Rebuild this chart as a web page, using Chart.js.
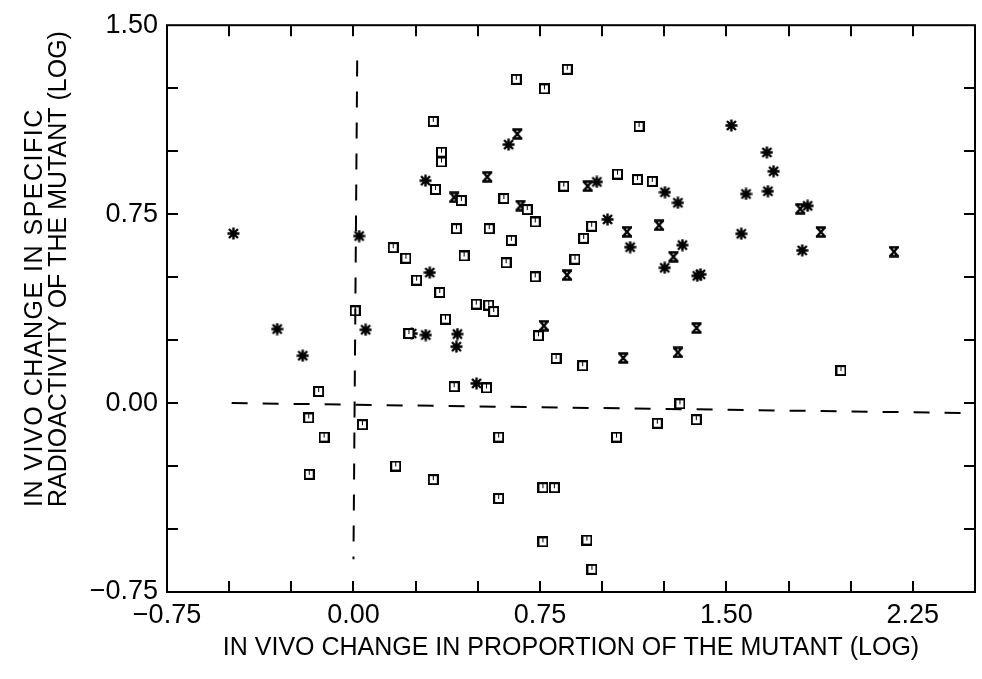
<!DOCTYPE html>
<html>
<head>
<meta charset="utf-8">
<script src="https://cdn.jsdelivr.net/npm/chart.js@4.4.1/dist/chart.umd.min.js"></script>
<style>
  html, body { margin: 0; padding: 0; background: #fff; }
  #wrap { width: 982px; height: 679px; }
</style>
</head>
<body>
<div id="wrap"><canvas id="c" width="982" height="679"></canvas></div>
<script>
// ---- Data ----
const squarePoints = [
  [0.321, 1.118], [0.655, 1.285], [0.768, 1.247], [0.860, 1.325], [0.354, 0.996],
  [0.354, 0.957], [0.330, 0.848], [0.434, 0.804], [0.605, 0.812], [0.699, 0.768],
  [0.731, 0.719], [0.846, 0.861], [0.414, 0.692], [0.546, 0.692], [0.635, 0.646],
  [1.149, 1.098], [1.062, 0.909], [1.142, 0.887], [1.202, 0.880], [0.958, 0.702],
  [0.926, 0.654], [0.891, 0.571], [0.815, 0.177], [0.922, 0.148], [1.961, 0.129],
  [1.313, -0.003], [1.222, -0.080], [1.379, -0.066], [1.058, -0.135], [0.160, 0.617],
  [0.211, 0.575], [0.445, 0.584], [0.614, 0.557], [0.254, 0.488], [0.731, 0.501],
  [0.347, 0.439], [0.494, 0.393], [0.544, 0.389], [0.564, 0.363], [0.007, 0.366],
  [0.370, 0.333], [0.223, 0.276], [0.744, 0.267], [-0.140, 0.046], [0.405, 0.065],
  [0.535, 0.060], [-0.180, -0.059], [0.036, -0.086], [-0.118, -0.135], [0.584, -0.135],
  [0.170, -0.250], [-0.178, -0.283], [0.321, -0.304], [0.762, -0.336], [0.808, -0.336],
  [0.584, -0.379], [0.762, -0.551], [0.939, -0.544], [0.959, -0.660]
];
const asteriskPoints = [
  [-0.483, 0.673], [0.023, 0.663], [0.624, 1.026], [0.290, 0.883], [1.520, 1.102],
  [1.663, 0.995], [1.690, 0.920], [1.579, 0.830], [1.667, 0.841], [1.827, 0.783],
  [1.560, 0.672], [0.979, 0.878], [1.253, 0.837], [1.305, 0.795], [1.022, 0.729],
  [1.113, 0.619], [1.323, 0.627], [1.252, 0.537], [1.383, 0.505], [1.396, 0.511],
  [1.805, 0.606], [0.307, 0.518], [-0.307, 0.294], [0.049, 0.291], [0.234, 0.276],
  [0.291, 0.270], [0.418, 0.274], [0.414, 0.224], [-0.204, 0.188], [0.495, 0.078]
];
const hourglassPoints = [
  [0.659, 1.068], [0.538, 0.898], [0.405, 0.817], [0.672, 0.784], [1.797, 0.771],
  [1.880, 0.679], [0.942, 0.861], [1.100, 0.680], [1.229, 0.706], [1.287, 0.581],
  [2.174, 0.601], [0.859, 0.508], [1.380, 0.298], [1.305, 0.201], [1.085, 0.179],
  [0.766, 0.307]
];
// dashed reference lines (as they appear in the picture)
const zeroLineH = [[-0.49, 0.00], [2.50, -0.04]];
const zeroLineV = [[0.015, 1.36], [0.00, -0.62]];

// axis ranges and labelled tick values
const xRange = [-0.75, 2.50];
const yRange = [-0.75, 1.50];
const tickStep = 0.25;
const labelStep = 0.75;
const xTitle = 'IN VIVO CHANGE IN PROPORTION OF THE MUTANT (LOG)';
const yTitleLines = ['IN VIVO CHANGE IN SPECIFIC', 'RADIOACTIVITY OF THE MUTANT (LOG)'];

// ---- marker glyphs ----
function makeGlyph(size, draw) {
  const c = document.createElement('canvas');
  c.width = size; c.height = size;
  const g = c.getContext('2d');
  g.fillStyle = '#000'; g.strokeStyle = '#000';
  draw(g, size);
  return c;
}
const squareGlyph = makeGlyph(11, (g) => {
  g.fillRect(0, 0, 11, 11);
  g.fillStyle = '#fff'; g.fillRect(2, 2, 7, 7);
  g.fillStyle = '#000'; g.fillRect(5, 2, 1, 4);
});
const asteriskGlyph = makeGlyph(13, (g) => {
  g.lineWidth = 2.4; g.lineCap = 'butt';
  g.beginPath();
  g.moveTo(6.5, 0.5); g.lineTo(6.5, 12.5);
  g.moveTo(0.5, 6.5); g.lineTo(12.5, 6.5);
  g.moveTo(2, 2); g.lineTo(11, 11);
  g.moveTo(11, 2); g.lineTo(2, 11);
  g.stroke();
  g.beginPath(); g.arc(6.5, 6.5, 2.5, 0, Math.PI * 2); g.fill();
});
const hourglassGlyph = makeGlyph(12, (g) => {
  g.lineWidth = 2.4;
  g.beginPath();
  g.moveTo(1, 1.5); g.lineTo(11, 1.5);
  g.moveTo(1, 10.5); g.lineTo(11, 10.5);
  g.moveTo(2, 1.5); g.lineTo(10, 10.5);
  g.moveTo(10, 1.5); g.lineTo(2, 10.5);
  g.stroke();
});

const tickFont = { family: '"Liberation Sans", Arial, sans-serif', size: 27 };
const xTitleFont = { family: '"Liberation Sans", Arial, sans-serif', size: 25 };

const toXY = arr => arr.map(p => ({ x: p[0], y: p[1] }));
const isLabelTick = v => Math.abs(v / labelStep - Math.round(v / labelStep)) < 1e-6;
const fmt = v => { const s = Math.abs(v).toFixed(2); return v < -1e-9 ? '\u2212' + s : s; };

// frame + inward ticks on all four sides, and the two-line y-axis title
const framePlugin = {
  id: 'framePlugin',
  afterDatasetsDraw(chart) {
    const { ctx, chartArea: a, scales: { x, y } } = chart;
    const L = 11;
    ctx.save();
    ctx.strokeStyle = '#000';
    ctx.lineWidth = 2;
    ctx.strokeRect(a.left, a.top, a.right - a.left, a.bottom - a.top);
    ctx.beginPath();
    x.ticks.forEach(t => {
      const px = Math.round(x.getPixelForValue(t.value));
      if (px <= a.left + 1 || px >= a.right - 1) return;
      ctx.moveTo(px, a.bottom); ctx.lineTo(px, a.bottom - L);
      ctx.moveTo(px, a.top); ctx.lineTo(px, a.top + L);
    });
    y.ticks.forEach(t => {
      const py = Math.round(y.getPixelForValue(t.value));
      if (py <= a.top + 1 || py >= a.bottom - 1) return;
      ctx.moveTo(a.left, py); ctx.lineTo(a.left + L, py);
      ctx.moveTo(a.right, py); ctx.lineTo(a.right - L, py);
    });
    ctx.stroke();
    ctx.restore();
  },
  afterDraw(chart) {
    const { ctx, chartArea: a } = chart;
    ctx.save();
    ctx.fillStyle = '#000';
    ctx.font = '25px "Liberation Sans", Arial, sans-serif';
    ctx.textAlign = 'left';
    ctx.textBaseline = 'middle';
    const startY = a.bottom - 85;
    const xs = [35, 59];
    const spacing = ['1.5px', '0px'];
    yTitleLines.forEach((line, i) => {
      ctx.save();
      ctx.letterSpacing = spacing[i];
      ctx.translate(xs[i], startY);
      ctx.rotate(-Math.PI / 2);
      ctx.fillText(line, 0, 0);
      ctx.restore();
    });
    ctx.restore();
  }
};

const glyphDataset = (label, pts, glyph) => ({
  label, data: toXY(pts), pointStyle: glyph, pointRadius: 5, pointHoverRadius: 5,
  showLine: false, backgroundColor: '#000', borderColor: '#000'
});
const dashDataset = (label, pts) => ({
  label, data: toXY(pts), showLine: true, pointRadius: 0, borderColor: '#000',
  borderWidth: 2, borderDash: [16, 15], fill: false
});

new Chart(document.getElementById('c'), {
  type: 'scatter',
  data: {
    datasets: [
      dashDataset('y = 0', zeroLineH),
      dashDataset('x = 0', zeroLineV),
      glyphDataset('Square', squarePoints, squareGlyph),
      glyphDataset('Asterisk', asteriskPoints, asteriskGlyph),
      glyphDataset('Hourglass', hourglassPoints, hourglassGlyph)
    ]
  },
  options: {
    responsive: false,
    animation: false,
    devicePixelRatio: 1,
    layout: { padding: { top: 23, right: 6, left: 0, bottom: 0 } },
    plugins: { legend: { display: false }, tooltip: { enabled: false } },
    scales: {
      x: {
        type: 'linear', min: xRange[0], max: xRange[1],
        grid: { display: false, drawTicks: false, tickLength: 0 }, border: { display: false },
        ticks: {
          stepSize: tickStep, autoSkip: false, maxRotation: 0, minRotation: 0,
          color: '#000', font: tickFont, padding: 7,
          callback: v => isLabelTick(v) ? fmt(v) : ''
        },
        title: { display: true, text: xTitle, color: '#000', font: xTitleFont, padding: { top: 4, bottom: 16 } },
        afterFit: s => { s.height = 87; }
      },
      y: {
        type: 'linear', min: yRange[0], max: yRange[1],
        grid: { display: false, drawTicks: false, tickLength: 0 }, border: { display: false },
        ticks: {
          stepSize: tickStep, autoSkip: false,
          color: '#000', font: tickFont, padding: 9,
          callback: v => isLabelTick(v) ? fmt(v) : ''
        },
        afterFit: s => { s.width = 167; }
      }
    }
  },
  plugins: [framePlugin]
});
</script>
</body>
</html>
